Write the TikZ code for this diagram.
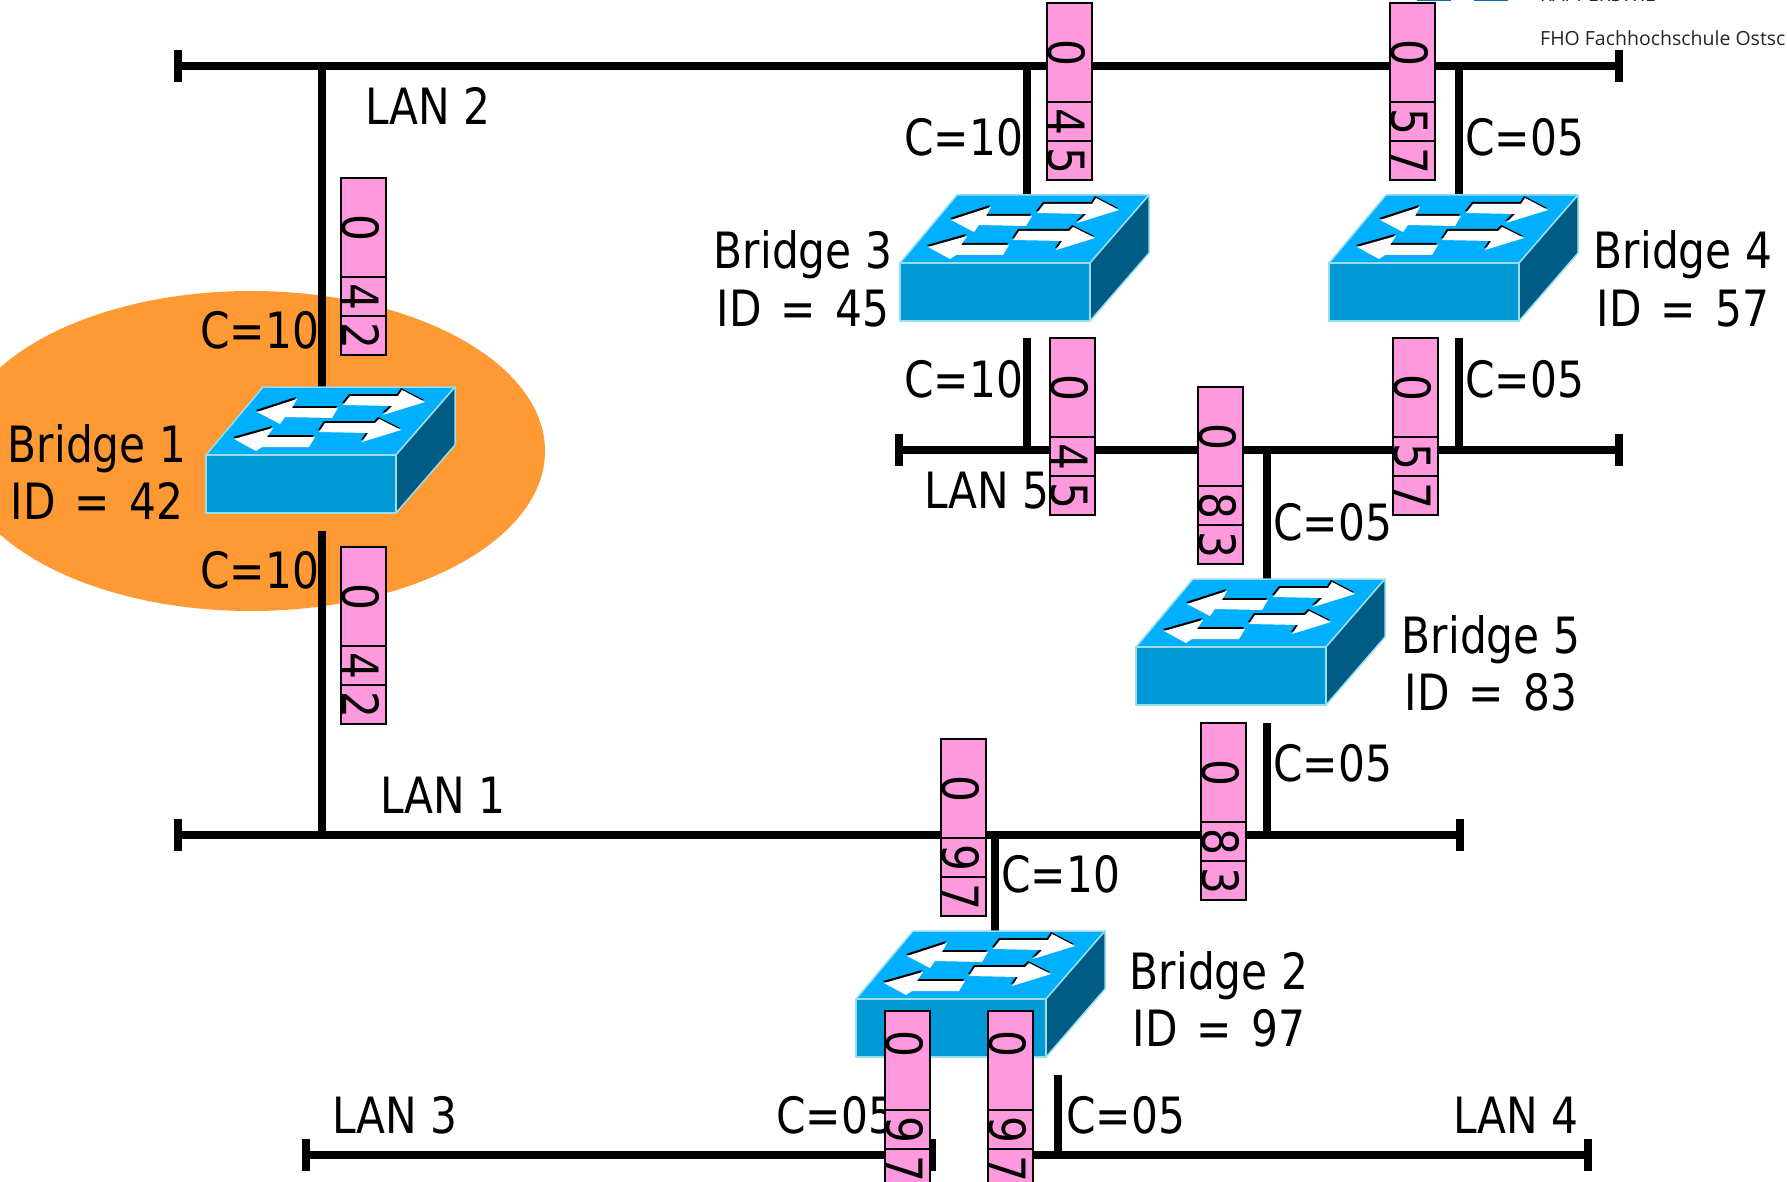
\documentclass[tikz,border=0pt]{standalone}
\usepackage{fontspec}
\setmainfont{DejaVu Sans Condensed}[FakeStretch=0.94]
\newfontfamily\logofont{Open Sans}
\newcommand{\idgap}{\hspace{0.38em}}
\definecolor{hilite}{HTML}{FF9933}
\definecolor{swtop}{HTML}{00B0FF}
\definecolor{swfront}{HTML}{0099D6}
\definecolor{swside}{HTML}{005C85}
\definecolor{swedge}{HTML}{99DDEE}
\definecolor{framepink}{HTML}{FF99DD}
\definecolor{logoblue}{HTML}{0A6EB4}
\tikzset{
  x=1pt,y=-1pt,
  lan/.style={draw=black,line width=8pt},
  tick/.style={draw=black,line width=8pt},
  link/.style={draw=black,line width=8pt},
  lbl/.style={anchor=base west,inner sep=0pt,font=\fontsize{50}{50}\selectfont},
  brlbl/.style={anchor=base,inner sep=0pt,font=\fontsize{50}{50}\selectfont},
  cell/.style={draw=black,line width=2pt,fill=framepink,rotate=-90,inner sep=0pt,minimum height=45pt,
    text height=42pt,text depth=0pt,font=\fontsize{50}{50}\selectfont},
  cellzero/.style={rotate=-90,inner sep=0pt,minimum height=45pt,
    text height=42pt,text depth=0pt,font=\fontsize{50}{50}\selectfont},
  swface/.style={draw=swedge,line width=1.5pt,line join=round},
  arrowwhite/.style={fill=white,draw=none},
  arrowblack/.style={fill=black,draw=none},
  switchbox/.pic={
    \fill[swfront] (0,0) rectangle (190,58);
    \path[swface,fill=swtop] (0,0) -- (57,-68) -- (249,-68) -- (190,0) -- cycle;
    \path[swface,fill=swside] (190,0) -- (249,-68) -- (249,-10) -- (190,58) -- cycle;
    \path[swface] (0,0) rectangle (190,58);
    \foreach \dx/\dy/\st in {-1/-2/arrowblack,0/0/arrowwhite}{
      \begin{scope}[shift={(\dx,\dy)}]
      \fill[\st] (137,-50) -- (144,-59) -- (192,-59) -- (196,-65) -- (219,-53) -- (177,-40) -- (186,-49) -- cycle;
      \fill[\st] (51,-43) -- (91,-56) -- (86,-47) -- (132,-47) -- (126,-37) -- (79,-38) -- (74,-31) -- cycle;
      \fill[\st] (28,-16) -- (67,-27) -- (61,-18) -- (109,-18) -- (103,-8) -- (56,-8) -- (50,-4) -- cycle;
      \fill[\st] (113,-23) -- (119,-32) -- (169,-32) -- (173,-36) -- (195,-25) -- (156,-13) -- (162,-22) -- cycle;
      \end{scope}
    }
    \coordinate (-top) at (116,-68);
    \coordinate (-bottom) at (116,58);
  }
}
% name, left, top, digits, offset of the zero from the middle of its cell
\newcommand{\frameunit}[7]{%
  \node[cell,minimum width=99pt] (#1a) at (#2+22.5,#3+49.5) {};
  \node[cellzero] (#1z) at (#2+22.5,#3+49.5+#7) {#4};
  \node[cell,minimum width=39pt] (#1b) at (#2+22.5,#3+118.5) {#5};
  \node[cell,minimum width=39pt] (#1c) at (#2+22.5,#3+157.5) {#6};
}
\begin{document}
\begin{tikzpicture}
\useasboundingbox (0,0) rectangle (1787,1182);
\clip (0,0) rectangle (1787,1182);
\fill[white] (0,0) rectangle (1787,1182);

% cut-off header remains
\fill (247,0) arc[start angle=180,end angle=360,x radius=10.5,y radius=5] -- cycle;
\fill (640,0) arc[start angle=180,end angle=360,x radius=10.5,y radius=5] -- cycle;
\fill[logoblue] (1417,0) rectangle (1451,1.5);
\fill[logoblue] (1474,0) rectangle (1508,1.5);
\node[anchor=base west,inner sep=0pt,text=black!85,font=\logofont\fontsize{19.5}{19.5}\selectfont] (logoA) at (1540,2) {RAPPERSWIL};
\node[anchor=base west,inner sep=0pt,text=black!85,font=\logofont\fontsize{19.5}{19.5}\selectfont] (logoB) at (1540,46) {FHO Fachhochschule Ostsc};

% root bridge highlight
\fill[hilite] (251,451) ellipse[x radius=294,y radius=160];

% LAN end points
\coordinate (lan2L) at (178,66);  \coordinate (lan2R) at (1619,66);
\coordinate (lan5L) at (899,450); \coordinate (lan5R) at (1619,450);
\coordinate (lan1L) at (178,835); \coordinate (lan1R) at (1460,835);
\coordinate (lan3L) at (306,1155);\coordinate (lan3R) at (932,1155);
\coordinate (lan4L) at (1010,1155);\coordinate (lan4R) at (1588,1155);

\foreach \a/\b in {lan2L/lan2R,lan5L/lan5R,lan1L/lan1R,lan3L/lan3R,lan4L/lan4R}{
  \draw[lan] (\a) -- (\b);
}
\foreach \p in {lan2L,lan2R,lan5L,lan5R,lan1L,lan1R,lan3L,lan3R,lan4R}{
  \draw[tick] ([yshift=-16pt]\p) -- ([yshift=16pt]\p);
}

% port end points
\coordinate (b1up) at (322,400);   \coordinate (b1dn) at (322,531);
\coordinate (b3up) at (1027,200);  \coordinate (b3dn) at (1027,338);
\coordinate (b4up) at (1459,200);  \coordinate (b4dn) at (1459,338);
\coordinate (b5up) at (1267,590);  \coordinate (b5dn) at (1267,723);
\coordinate (b2up) at (995,940);   \coordinate (b2dn) at (1058,1075);

\draw[link] (b1up) -- (b1up |- lan2L);
\draw[link] (b1dn) -- (b1dn |- lan1L);
\draw[link] (b3up) -- (b3up |- lan2L);
\draw[link] (b3dn) -- (b3dn |- lan5L);
\draw[link] (b4up) -- (b4up |- lan2L);
\draw[link] (b4dn) -- (b4dn |- lan5L);
\draw[link] (b5up) -- (b5up |- lan5L);
\draw[link] (b5dn) -- (b5dn |- lan1L);
\draw[link] (b2up) -- (b2up |- lan1L);
\draw[link] (b2dn) -- (b2dn |- lan4L);

% bridges
\pic (br1) at (206,455) {switchbox};
\pic (br3) at (900,263) {switchbox};
\pic (br4) at (1329,263) {switchbox};
\pic (br5) at (1136,647) {switchbox};
\pic (br2) at (856,999) {switchbox};

% labels
\node[lbl] (tLan2) at (365,125) {LAN 2};
\node[lbl] (tLan5) at (924,508) {LAN 5};
\node[lbl] (tLan1) at (380,813) {LAN 1};
\node[lbl] (tLan3) at (332,1133) {LAN 3};
\node[lbl] (tLan4) at (1453,1133) {LAN 4};
\node[lbl] (c1a) at (200,348) {C=10};
\node[lbl] (c1b) at (200,588) {C=10};
\node[lbl] (c3a) at (904,156) {C=10};
\node[lbl] (c3b) at (904,397) {C=10};
\node[lbl] (c4a) at (1465,156) {C=05};
\node[lbl] (c4b) at (1465,397) {C=05};
\node[lbl] (c5a) at (1273,540) {C=05};
\node[lbl] (c5b) at (1273,781) {C=05};
\node[lbl] (c2a) at (1001,892) {C=10};
\node[lbl] (c2b) at (776,1133) {C=05};
\node[lbl] (c2c) at (1066,1133) {C=05};
\node[brlbl] (n1a) at (97,462) {Bridge 1};
\node[brlbl] (n1b) at (97,519) {ID\idgap=\idgap 42};
\node[brlbl] (n3a) at (803,269) {Bridge 3};
\node[brlbl] (n3b) at (803,326) {ID\idgap=\idgap 45};
\node[brlbl] (n4a) at (1683,269) {Bridge 4};
\node[brlbl] (n4b) at (1683,326) {ID\idgap=\idgap 57};
\node[brlbl] (n5a) at (1491,653) {Bridge 5};
\node[brlbl] (n5b) at (1491,710) {ID\idgap=\idgap 83};
\node[brlbl] (n2a) at (1219,989) {Bridge 2};
\node[brlbl] (n2b) at (1219,1046) {ID\idgap=\idgap 97};

% BPDU frames
\frameunit{f1}{341}{178}{0}{4}{2}{0}
\frameunit{f2}{341}{547}{0}{4}{2}{0}
\frameunit{f3}{1047}{3}{0}{4}{5}{0}
\frameunit{f4}{1390}{3}{0}{5}{7}{0}
\frameunit{f5}{1050}{338}{0}{4}{5}{0}
\frameunit{f6}{1393}{338}{0}{5}{7}{0}
\frameunit{f7}{1198}{387}{0}{8}{3}{0}
\frameunit{f8}{1201}{723}{0}{8}{3}{0}
\frameunit{f9}{941}{739}{0}{9}{7}{0}
\frameunit{f10}{885}{1011}{0}{9}{7}{-17}
\frameunit{f11}{988}{1011}{0}{9}{7}{-17}
\end{tikzpicture}
\end{document}
